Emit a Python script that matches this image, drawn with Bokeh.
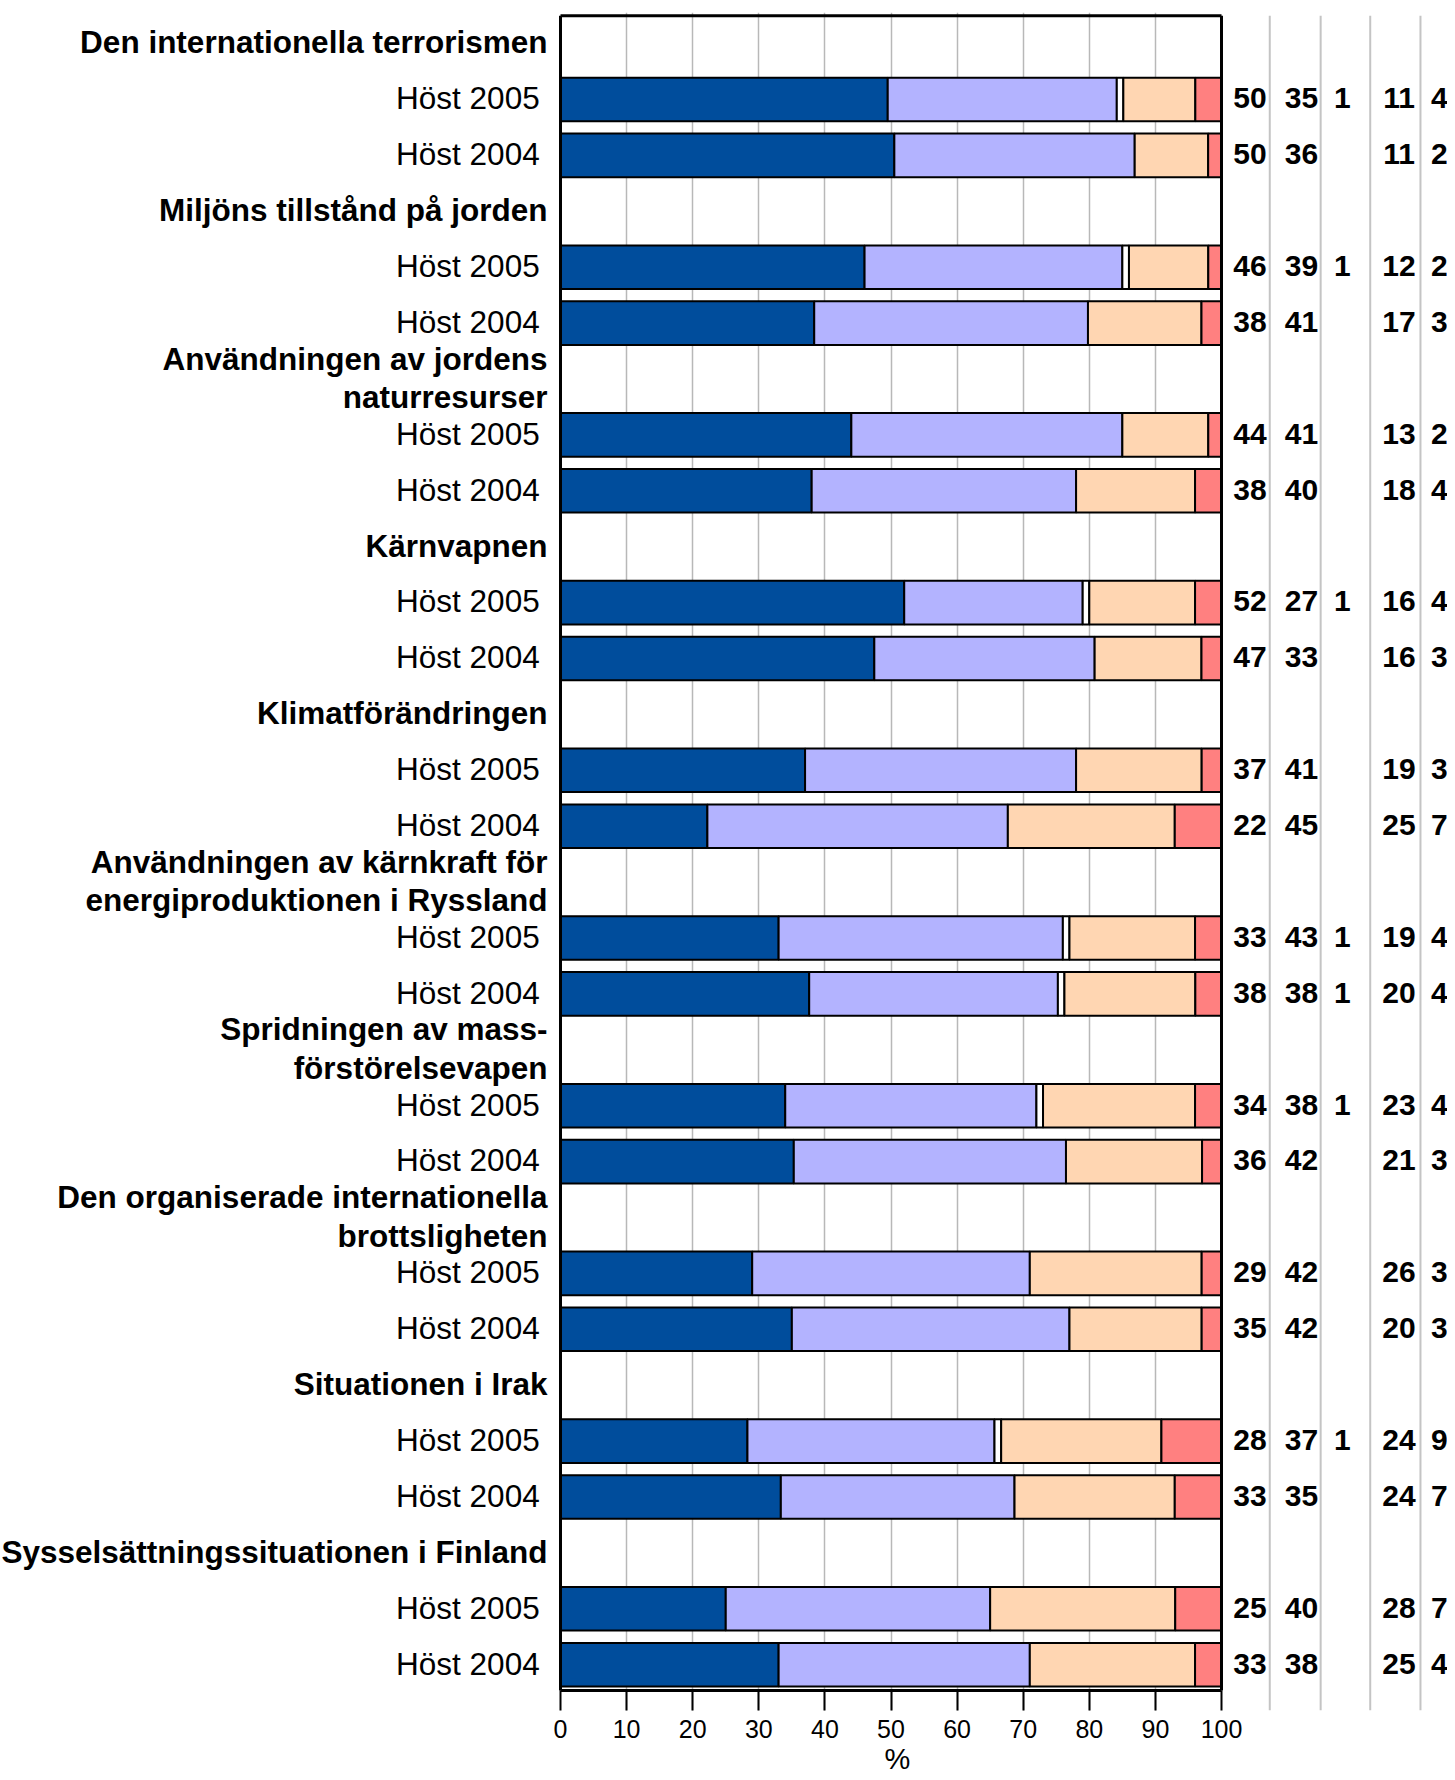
import numpy as np
from bokeh.plotting import figure
from bokeh.models import Range1d, FixedTicker, ColumnDataSource, Title
from bokeh.core.properties import value
from bokeh.embed import file_html
from bokeh.resources import INLINE

# ---------------- data ----------------
topics = [
    "Den internationella terrorismen",
    "Miljöns tillstånd på jorden",
    "Användningen av jordens\nnaturresurser",
    "Kärnvapnen",
    "Klimatförändringen",
    "Användningen av kärnkraft för\nenergiproduktionen i Ryssland",
    "Spridningen av mass-\nförstörelsevapen",
    "Den organiserade internationella\nbrottsligheten",
    "Situationen i Irak",
    "Sysselsättningssituationen i Finland",
]
periods = ["Höst 2005", "Höst 2004"]

# one value per bar, order: topic1 2005, topic1 2004, topic2 2005, ...
s1 = [50, 50, 46, 38, 44, 38, 52, 47, 37, 22, 33, 38, 34, 36, 29, 35, 28, 33, 25, 33]
s2 = [35, 36, 39, 41, 41, 40, 27, 33, 41, 45, 43, 38, 38, 42, 42, 42, 37, 35, 40, 38]
s3 = [1, 0, 1, 0, 0, 0, 1, 0, 0, 0, 1, 1, 1, 0, 0, 0, 1, 0, 0, 0]
s4 = [11, 11, 12, 17, 13, 18, 16, 16, 19, 25, 19, 20, 23, 21, 26, 20, 24, 24, 28, 25]
s5 = [4, 2, 2, 3, 2, 4, 4, 3, 3, 7, 4, 4, 4, 3, 3, 3, 9, 7, 7, 4]
x_ticks = [0, 10, 20, 30, 40, 50, 60, 70, 80, 90, 100]
x_label = "%"

# ---------------- style ----------------
series = [s1, s2, s3, s4, s5]
colors = ["#004D9C", "#B3B3FF", "#FFFFFF", "#FFD6B2", "#FF8080"]
FONT = "Liberation Sans"
col_x = [104.3, 112.1, 118.3, 126.85, 132.95]   # number columns (x units)
sep_x = [107.3, 115.0, 122.5, 130.1]            # grey column separators
period_x = -3.15                                 # right edge of period labels
topic_x = -1.97                                  # right edge of topic labels
dy = -0.02                                       # small text nudge

n_rows = len(topics) * 3
y_top = -0.556
y_bot = 29.819
y_border = n_rows - 0.54

p = figure(width=1447, height=1780, output_backend="svg", toolbar_location=None,
           x_range=Range1d(-84.72, 134.19), y_range=Range1d(y_bot, y_top),
           min_border_left=0, min_border_right=0, min_border_top=12,
           min_border_bottom=70)
p.outline_line_color = None
p.background_fill_color = "white"
p.border_fill_color = "white"
p.yaxis.visible = False

# grid
p.ygrid.visible = False
p.xgrid.ticker = FixedTicker(ticks=x_ticks[1:-1])
p.xgrid.grid_line_color = "#b8b8b8"
p.xgrid.grid_line_width = 1.5

# separators for number table
p.segment(x0=sep_x, y0=[-0.5] * len(sep_x), x1=sep_x, y1=[y_bot] * len(sep_x),
          line_color="#c4c4c4", line_width=2)

# bars
bar_rows = []
for g in range(len(topics)):
    for k in range(len(periods)):
        bar_rows.append(3 * g + 1 + k)

vals = np.array(series, dtype=float)          # (5, 20)
tot = vals.sum(axis=0)
norm = vals / tot * 100.0
right = np.cumsum(norm, axis=0)
left = right - norm

ys, ls, rs, cs = [], [], [], []
for j in range(len(series)):
    for i in range(len(bar_rows)):
        if vals[j, i] > 0:
            ys.append(bar_rows[i]); ls.append(left[j, i]); rs.append(right[j, i]); cs.append(colors[j])
bsrc = ColumnDataSource(dict(y=ys, left=ls, right=rs, color=cs))
p.hbar(y="y", left="left", right="right", height=0.78, fill_color="color",
       line_color="black", line_width=2, source=bsrc)

# frame borders (left, top, right, bottom)
p.segment(x0=[0, 0, 100, 0], y0=[-0.5, -0.5, -0.5, y_border],
          x1=[0, 100, 100, 100], y1=[y_border, -0.5, y_border, y_border],
          line_color="black", line_width=3)

# number table
tx, ty, tt = [], [], []
for j in range(len(series)):
    for i in range(len(bar_rows)):
        v = series[j][i]
        tx.append(col_x[j]); ty.append(bar_rows[i] + dy); tt.append(str(v) if v > 0 else "")
p.text(x=tx, y=ty, text=tt, text_font=value(FONT), text_font_style="bold",
       text_font_size="30px", text_align="center", text_baseline="middle", text_color="black")

# period labels
p.text(x=[period_x] * len(bar_rows), y=[r + dy for r in bar_rows],
       text=[periods[i % 2] for i in range(len(bar_rows))],
       text_font=value(FONT), text_font_size="31.5px", text_align="right",
       text_baseline="middle", text_color="black")

# topic headers
hx, hy, ht = [], [], []
for g, t in enumerate(topics):
    lines = t.split("\n")
    n = len(lines)
    for li, ln in enumerate(lines):
        off = (li - (n - 1) / 2) * 0.69
        hx.append(topic_x); hy.append(3 * g + off + dy); ht.append(ln)
p.text(x=hx, y=hy, text=ht, text_font=value(FONT), text_font_style="bold",
       text_font_size="31.5px", text_align="right", text_baseline="middle", text_color="black")

# x axis
p.xaxis.ticker = FixedTicker(ticks=x_ticks)
p.xaxis.bounds = (0, 100)
p.xaxis.axis_line_color = None
p.xaxis.major_tick_in = 20
p.xaxis.major_tick_out = 0
p.xaxis.major_tick_line_color = "black"
p.xaxis.major_tick_line_width = 2
p.xaxis.minor_tick_line_color = None
p.xaxis.major_label_standoff = 9
p.xaxis.major_label_text_font = FONT
p.xaxis.major_label_text_font_size = "25px"
p.xaxis.major_label_text_color = "black"

# axis title "%" centred under the 0-100 scale
p.add_layout(Title(text=x_label, align="left", offset=884, standoff=0,
                   text_line_height=1.15,
                   text_font=FONT, text_font_size="29px", text_font_style="normal",
                   text_color="black"), "below")

open("out.html", "w").write(file_html(p, INLINE))
